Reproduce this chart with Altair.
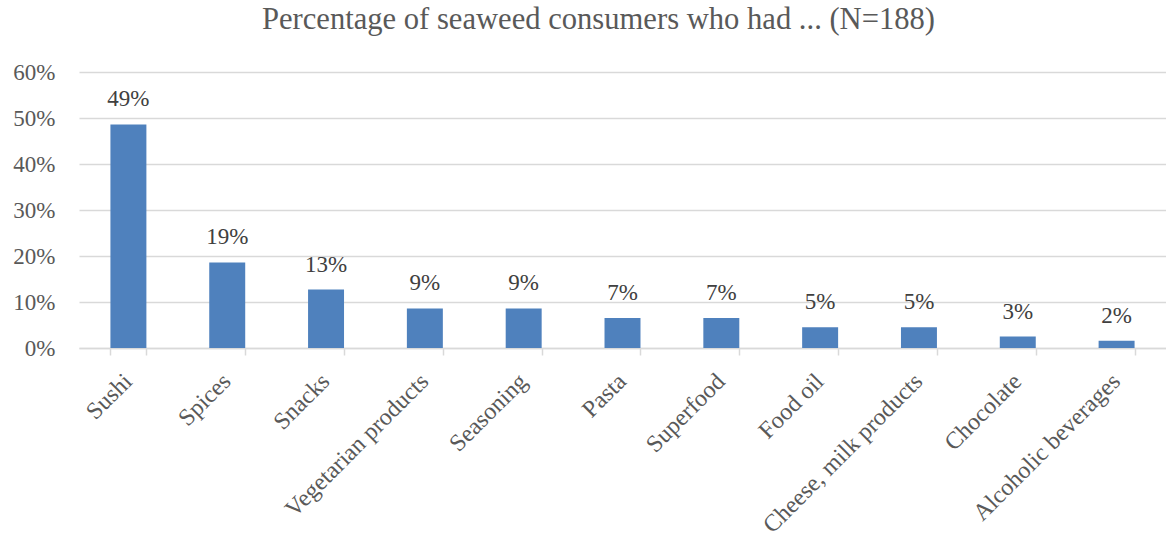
import altair as alt
import pandas as pd

categories = ["Sushi", "Spices", "Snacks", "Vegetarian products", "Seasoning", "Pasta",
              "Superfood", "Food oil", "Cheese, milk products", "Chocolate", "Alcoholic beverages"]
values = [0.486, 0.186, 0.127, 0.086, 0.086, 0.065, 0.065, 0.045, 0.045, 0.025, 0.016]
labels = ["49%", "19%", "13%", "9%", "9%", "7%", "7%", "5%", "5%", "3%", "2%"]

df = pd.DataFrame({"cat": categories, "val": values, "lab": labels})

FONT = "Liberation Serif"

x = alt.X("cat:N", sort=categories, title=None,
          scale=alt.Scale(paddingInner=0.636, paddingOuter=0.318),
          axis=alt.Axis(labelAngle=-45, labelFontSize=24, labelColor="#595959", labelFont=FONT,
                        labelLimit=0, labelOffset=-9,
                        domainColor="#d9d9d9", domainWidth=1.5, tickColor="#d9d9d9", tickWidth=1.5,
                        tickSize=7, tickBand="extent", labelPadding=14, grid=False))
y = alt.Y("val:Q", title=None, scale=alt.Scale(domain=[0, 0.6], nice=False),
          axis=alt.Axis(format=".0%", values=[0, 0.1, 0.2, 0.3, 0.4, 0.5, 0.6], labelFontSize=23,
                        labelColor="#595959", labelFont=FONT, domain=False, ticks=False,
                        labelPadding=24, minExtent=74, gridColor="#d9d9d9", gridWidth=1.5))

bars = alt.Chart(df).mark_bar(color="#4F81BD").encode(x=x, y=y)
text = alt.Chart(df).mark_text(baseline="alphabetic", dy=-18, fontSize=23, font=FONT,
                               color="#404040").encode(x=x, y=y, text="lab:N")

chart = alt.layer(bars, text).properties(
    width=1087, height=276,
    padding={"left": 5, "top": 5, "right": 0, "bottom": 0},
    title=alt.TitleParams("Percentage of seaweed consumers who had ... (N=188)", fontSize=30.6,
                          font=FONT, fontWeight="normal", color="#595959", anchor="middle",
                          dx=-24, offset=25)
).configure_view(stroke=None)

chart.save("out.html", embed_options={"renderer": "svg", "actions": False})
